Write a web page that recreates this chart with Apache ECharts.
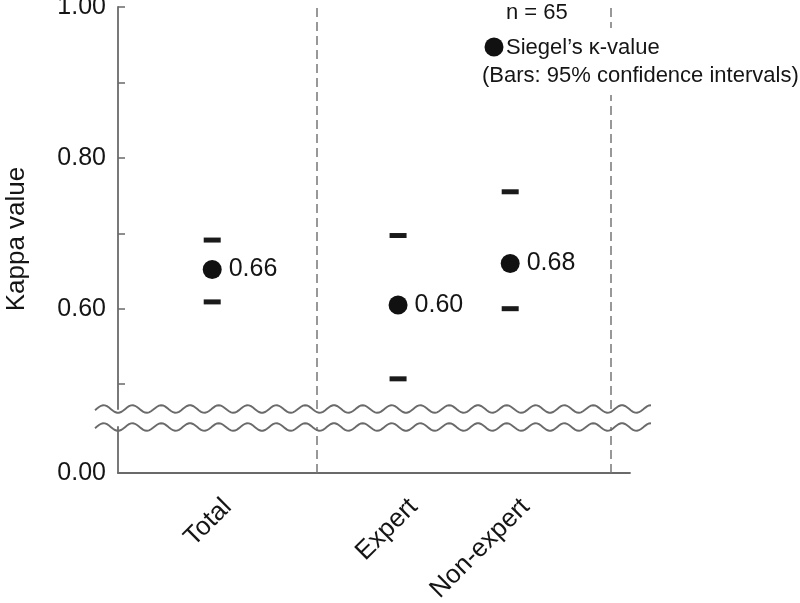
<!DOCTYPE html>
<html>
<head>
<meta charset="utf-8">
<script src="https://cdn.jsdelivr.net/npm/echarts@6/dist/echarts.min.js"></script>
<style>
  html, body { margin: 0; padding: 0; background: #fff; }
  #main { width: 800px; height: 603px; }
</style>
</head>
<body>
<div id="main"></div>
<script>
// data
var categories = ['Total', 'Expert', 'Non-expert'];
var xPos = [18.4, 54.7, 76.6];
var kappa = [0.652, 0.605, 0.660];
var kappaLabels = ['0.66', '0.60', '0.68'];
var ciUpper = [0.691, 0.697, 0.755];
var ciLower = [0.609, 0.507, 0.600];
var dividers = [38.9, 96.3];
var yTicks = [0.5, 0.6, 0.7, 0.8, 0.9, 1.0];
var yLabels = [0.6, 0.8, 1.0];

var chart = echarts.init(document.getElementById('main'));
var FONT = 'Liberation Sans';
var INK = '#151515';
var GREY = '#6a6a6a';
var LABEL_SHIFT = 3.0;

// wavy break lines (decoration)
function wave(cy) {
    var pts = [];
    for (var x = 95; x <= 652; x += 2) {
        pts.push([x, cy + 3.8 * Math.cos(2 * Math.PI * (x - 118) / 28.8)]);
    }
    return {
        type: 'polyline', z: 100, silent: true,
        shape: { points: pts },
        style: { stroke: GREY, lineWidth: 1.9, fill: null }
    };
}

var ciData = [];
var dotData = [];
for (var i = 0; i < categories.length; i++) {
    ciData.push([xPos[i], ciUpper[i]]);
    ciData.push([xPos[i], ciLower[i]]);
    dotData.push([xPos[i], kappa[i], kappaLabels[i]]);
}

var dividerLine = {
    silent: true,
    symbol: 'none',
    label: { show: false },
    lineStyle: { color: '#777', type: [9, 5], width: 1.5 },
    data: dividers.map(function (d) { return { xAxis: d }; })
};

var option = {
    animation: false,
    backgroundColor: '#fff',
    textStyle: { fontFamily: FONT },
    grid: [
        { left: 118, right: 170, top: 7, height: 402, containLabel: false, outerBoundsMode: 'none' },
        { left: 118, right: 170, top: 427, height: 46, containLabel: false, outerBoundsMode: 'none' }
    ],
    xAxis: [
        { gridIndex: 0, type: 'value', min: 0, max: 100, show: false },
        {
            gridIndex: 1, type: 'value', min: 0, max: 100,
            axisLine: { show: true, lineStyle: { color: GREY, width: 1.8 } },
            axisTick: { show: false },
            splitLine: { show: false },
            axisLabel: {
                customValues: xPos.map(function (v) { return v + LABEL_SHIFT; }),
                formatter: function (v) {
                    for (var k = 0; k < xPos.length; k++) {
                        if (Math.abs(xPos[k] + LABEL_SHIFT - v) < 0.01) return categories[k];
                    }
                    return '';
                },
                rotate: 45,
                margin: 30,
                fontSize: 26,
                color: INK,
                fontFamily: FONT
            }
        }
    ],
    yAxis: [
        {
            gridIndex: 0, type: 'value', min: 0.467, max: 1.0,
            axisLine: { show: true, lineStyle: { color: GREY, width: 1.8 } },
            axisTick: { show: true, inside: true, length: 7, customValues: yTicks,
                lineStyle: { color: GREY, width: 1.5 } },
            axisLabel: {
                customValues: yLabels,
                formatter: function (v) { return v.toFixed(2); },
                margin: 12, fontSize: 25, color: INK, fontFamily: FONT
            },
            splitLine: { show: false }
        },
        {
            gridIndex: 1, type: 'value', min: 0, max: 0.06,
            axisLine: { show: true, lineStyle: { color: GREY, width: 1.8 } },
            axisTick: { show: false },
            axisLabel: {
                customValues: [0],
                formatter: function (v) { return v.toFixed(2); },
                margin: 12, fontSize: 25, color: INK, fontFamily: FONT
            },
            splitLine: { show: false }
        }
    ],
    series: [
        {
            name: 'CI', type: 'scatter', xAxisIndex: 0, yAxisIndex: 0,
            symbol: 'rect', symbolSize: [17, 5],
            itemStyle: { color: '#1a1a1a', opacity: 1 },
            data: ciData,
            markLine: dividerLine
        },
        {
            name: 'kappa', type: 'scatter', xAxisIndex: 0, yAxisIndex: 0,
            symbol: 'circle', symbolSize: 19,
            itemStyle: { color: '#111', opacity: 1 },
            label: {
                show: true, position: 'right', distance: 7,
                formatter: function (p) { return p.data[2]; },
                fontSize: 25, color: INK, fontFamily: FONT
            },
            data: dotData
        },
        {
            name: 'lower', type: 'scatter', xAxisIndex: 1, yAxisIndex: 1,
            data: [],
            markLine: dividerLine
        }
    ],
    graphic: [
        wave(409),
        wave(427),
        {
            type: 'text', z: 100, x: 17, y: 239,
            rotation: Math.PI / 2,
            style: { text: 'Kappa value', font: '26px ' + FONT, fill: INK,
                textAlign: 'center', textVerticalAlign: 'middle' }
        },
        {
            type: 'rect', z: 90, silent: true,
            shape: { x: 478, y: 28, width: 322, height: 67 },
            style: { fill: '#fff' }
        },
        {
            type: 'text', z: 100, x: 506, y: 13,
            style: { text: 'n = 65', font: '22px ' + FONT, fill: INK, textVerticalAlign: 'middle' }
        },
        {
            type: 'circle', z: 100, shape: { cx: 494, cy: 47, r: 9.5 },
            style: { fill: '#111' }
        },
        {
            type: 'text', z: 100, x: 506, y: 48,
            style: { text: 'Siegel\u2019s \u03ba-value', font: '22px ' + FONT, fill: INK, textVerticalAlign: 'middle' }
        },
        {
            type: 'text', z: 100, x: 482, y: 76,
            style: { text: '(Bars: 95% confidence intervals)', font: '22px ' + FONT, fill: INK, textVerticalAlign: 'middle' }
        }
    ]
};

chart.setOption(option);
</script>
</body>
</html>
